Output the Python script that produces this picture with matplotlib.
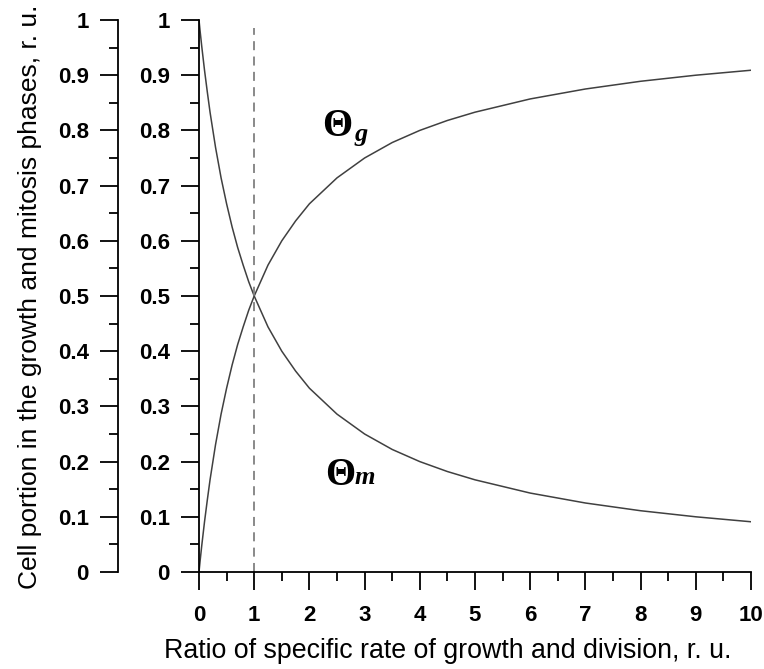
import numpy as np
import matplotlib.pyplot as plt
from matplotlib.ticker import MultipleLocator

# values
ratio = [0, 0.02, 0.05, 0.1, 0.15, 0.2, 0.3, 0.4, 0.5, 0.6, 0.7, 0.8, 0.9, 1.0,
         1.25, 1.5, 1.75, 2.0, 2.5, 3.0, 3.5, 4.0, 4.5, 5.0, 6.0, 7.0, 8.0, 9.0, 10.0]
theta_g = [0.0, 0.02, 0.048, 0.091, 0.13, 0.167, 0.231, 0.286, 0.333, 0.375, 0.412,
           0.444, 0.474, 0.5, 0.556, 0.6, 0.636, 0.667, 0.714, 0.75, 0.778, 0.8,
           0.818, 0.833, 0.857, 0.875, 0.889, 0.9, 0.909]
theta_m = [1.0, 0.98, 0.952, 0.909, 0.87, 0.833, 0.769, 0.714, 0.667, 0.625, 0.588,
           0.556, 0.526, 0.5, 0.444, 0.4, 0.364, 0.333, 0.286, 0.25, 0.222, 0.2,
           0.182, 0.167, 0.143, 0.125, 0.111, 0.1, 0.091]
marker_x = 1.0

yticks = [0, 0.1, 0.2, 0.3, 0.4, 0.5, 0.6, 0.7, 0.8, 0.9, 1]
ytick_labels = ["0", "0.1", "0.2", "0.3", "0.4", "0.5", "0.6", "0.7", "0.8", "0.9", "1"]
xticks = list(range(0, 11))

plt.rcParams['font.family'] = ['Liberation Sans', 'DejaVu Sans']

fig = plt.figure(figsize=(7.64, 6.69), dpi=100)
ax = fig.add_axes([199/764, 1 - 572/669, 552/764, 552/669])

ax.plot(ratio, theta_g, color="#404040", lw=1.1)
ax.plot(ratio, theta_m, color="#404040", lw=1.1)
ax.plot([marker_x, marker_x], [0, 0.985], color="#808080", lw=1.3,
        linestyle=(0, (5, 3.5)))

ax.set_xlim(0, 10)
ax.set_ylim(0, 1)
for s in ("top", "right"):
    ax.spines[s].set_visible(False)
for s in ("left", "bottom"):
    ax.spines[s].set_linewidth(1.3)

ax.set_xticks(xticks)
ax.xaxis.set_minor_locator(MultipleLocator(0.5))
ax.set_yticks(yticks)
ax.set_yticklabels(ytick_labels)
ax.yaxis.set_minor_locator(MultipleLocator(0.05))
ax.tick_params(which="major", length=13, width=1.3, labelsize=16, pad=8)
ax.tick_params(axis="x", which="major", pad=11)
ax.tick_params(which="minor", length=6.5, width=1.3)
for lab in ax.get_xticklabels() + ax.get_yticklabels():
    lab.set_fontweight("bold")

# second (outer) y axis
sec = ax.secondary_yaxis(-81/552)
sec.spines["left"].set_linewidth(1.3)
sec.set_yticks(yticks)
sec.set_yticklabels(ytick_labels)
sec.yaxis.set_minor_locator(MultipleLocator(0.05))
sec.tick_params(which="major", length=13, width=1.3, labelsize=16, pad=8)
sec.tick_params(which="minor", length=6.5, width=1.3)
for lab in sec.get_yticklabels():
    lab.set_fontweight("bold")

# curve labels
ax.text(2.50, 0.79, "\u0398", family="Liberation Serif", fontweight="bold",
        fontsize=28, ha="center", va="baseline")
ax.text(2.93, 0.781, "g", family="Liberation Serif", fontweight="bold",
        style="italic", fontsize=19, ha="center", va="baseline")
ax.text(2.55, 0.157, "\u0398", family="Liberation Serif", fontweight="bold",
        fontsize=28, ha="center", va="baseline")
ax.text(3.0, 0.16, "m", family="Liberation Serif", fontweight="bold",
        style="italic", fontsize=19, ha="center", va="baseline")

fig.text(448/764, 1 - 651/669, "Ratio of specific rate of growth and division, r. u.",
         fontsize=19.3, ha="center", va="center")
fig.text(30/764, 1 - 297/669, "Cell portion in the growth and mitosis phases, r. u.",
         fontsize=19, ha="center", va="center", rotation=90)

fig.savefig("out.png", dpi=100)
